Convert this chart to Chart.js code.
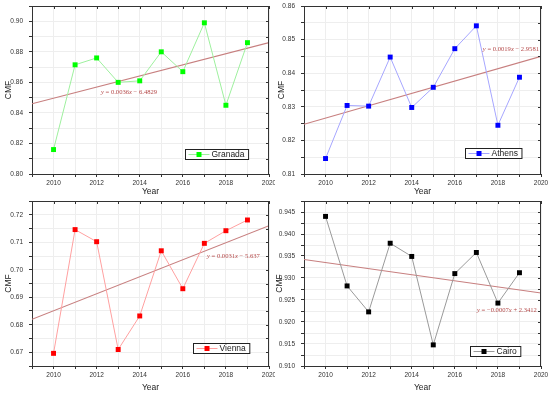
<!DOCTYPE html>
<html>
<head>
<meta charset="utf-8">
<script src="https://cdn.jsdelivr.net/npm/chart.js@4"></script>
<style>
  body { margin: 0; background: #fff; }
  #wrap { position: relative; width: 550px; height: 394px; overflow: hidden; }
  canvas { position: absolute; }
</style>
</head>
<body>
<div id="wrap">
  <canvas id="granada" width="275" height="197" style="left:0;top:0"></canvas>
  <canvas id="athens" width="275" height="197" style="left:275px;top:0"></canvas>
  <canvas id="vienna" width="275" height="197" style="left:0;top:197px"></canvas>
  <canvas id="cairo" width="275" height="197" style="left:275px;top:197px"></canvas>
</div>
<script>
const years = [2010, 2011, 2012, 2013, 2014, 2015, 2016, 2017, 2018, 2019];
const granada = [0.816, 0.8715, 0.876, 0.860, 0.861, 0.880, 0.867, 0.899, 0.845, 0.886];
const athens = [0.8146, 0.8304, 0.8302, 0.8448, 0.8298, 0.8358, 0.8473, 0.8541, 0.8245, 0.8388];
const vienna = [0.6696, 0.7146, 0.7102, 0.6710, 0.6832, 0.7069, 0.6931, 0.7096, 0.7142, 0.7181];
const cairo = [0.9440, 0.9282, 0.9223, 0.9379, 0.9349, 0.9148, 0.9310, 0.9358, 0.9243, 0.9312];

// fitted trend lines, read at the plot edges
const trendYears = [2009, 2020];
const granadaTrend = [0.846, 0.886];
const athensTrend = [0.8248, 0.8450];
const viennaTrend = [0.6820, 0.7160];
const cairoTrend = [0.9342, 0.9266];

const yearTicks = ["2010", "2012", "2014", "2016", "2018", "2020"];
const granadaTicks = ["0.80", "0.82", "0.84", "0.86", "0.88", "0.90"];
const athensTicks = ["0.81", "0.82", "0.83", "0.84", "0.85", "0.86"];
const viennaTicks = ["0.67", "0.68", "0.69", "0.70", "0.71", "0.72"];
const cairoTicks = ["0.910", "0.915", "0.920", "0.925", "0.930", "0.935", "0.940", "0.945"];

const equations = [
  "y = 0.0036x \u2212 6.4829",
  "y = 0.0019x \u2212 2.9581",
  "y = 0.0031x \u2212 5.637",
  "y = \u22120.0007x + 2.3412",
];

const sans = "'Liberation Sans', Arial, sans-serif";

const framePlugin = {
  id: "frame",
  afterDraw(chart) {
    const { ctx, chartArea: a, scales } = chart;
    const opts = chart.options.plugins.frame;
    ctx.save();
    ctx.strokeStyle = "#333";
    ctx.lineWidth = 1;
    ctx.beginPath();
    ctx.moveTo(a.left, a.top + 0.5);
    ctx.lineTo(a.right, a.top + 0.5);
    ctx.moveTo(a.right - 0.5, a.top);
    ctx.lineTo(a.right - 0.5, a.bottom);
    scales.x.ticks.forEach((t) => {
      const px = Math.round(scales.x.getPixelForValue(t.value)) + 0.5;
      ctx.moveTo(px, a.top);
      ctx.lineTo(px, a.top + 3);
    });
    scales.y.ticks.forEach((t) => {
      const py = Math.round(scales.y.getPixelForValue(t.value)) + 0.5;
      ctx.moveTo(a.right, py);
      ctx.lineTo(a.right - 3, py);
    });
    ctx.stroke();

    // equation of the trend line
    let ex = scales.x.getPixelForValue(opts.eqAt[0]);
    const ey = scales.y.getPixelForValue(opts.eqAt[1]);
    ctx.fillStyle = "#b54a4a";
    ctx.textBaseline = "middle";
    ctx.textAlign = "left";
    for (const ch of opts.equation) {
      const italic = ch === "x" || ch === "y";
      ctx.font = (italic ? "italic " : "") + "6.6px 'Liberation Serif', 'DejaVu Serif', serif";
      ctx.fillText(ch, ex, ey);
      ex += ctx.measureText(ch).width;
    }

    // legend box
    const ds = chart.data.datasets[0];
    ctx.font = "8.5px " + sans;
    const tw = ctx.measureText(ds.label).width;
    const bw = tw + 30;
    const bh = 10;
    const bx = Math.round(a.right - opts.legendRight - bw) + 0.5;
    const by = Math.round(a.bottom - opts.legendBottom - bh) + 0.5;
    ctx.fillStyle = "#fff";
    ctx.fillRect(bx, by, bw, bh);
    ctx.strokeStyle = "#222";
    ctx.strokeRect(bx, by, bw, bh);
    ctx.strokeStyle = ds.borderColor;
    ctx.beginPath();
    ctx.moveTo(bx + 3, by + bh / 2);
    ctx.lineTo(bx + 24, by + bh / 2);
    ctx.stroke();
    ctx.fillStyle = ds.pointBackgroundColor;
    ctx.fillRect(bx + 11, by + bh / 2 - 2.5, 5, 5);
    ctx.fillStyle = "#222";
    ctx.fillText(ds.label, bx + 26, by + bh / 2 + 0.5);
    ctx.restore();
  },
};

function makeChart(id, p) {
  const ctx = document.getElementById(id).getContext("2d");
  return new Chart(ctx, {
    type: "line",
    data: {
      datasets: [
        {
          label: p.name,
          data: years.map((y, i) => ({ x: y, y: p.values[i] })),
          borderColor: p.lineColor,
          borderWidth: 1,
          pointStyle: "rect",
          pointRadius: 3.5,
          pointBackgroundColor: p.markColor,
          pointBorderColor: p.markColor,
          pointBorderWidth: 0,
          tension: 0,
        },
        {
          label: "trend",
          data: trendYears.map((y, i) => ({ x: y, y: p.trend[i] })),
          borderColor: "#c77f7f",
          borderWidth: 1.1,
          pointRadius: 0,
        },
      ],
    },
    options: {
      responsive: false,
      animation: false,
      devicePixelRatio: 1,
      layout: { padding: { left: 0, right: p.padRight, top: p.padTop, bottom: 0 } },
      plugins: {
        legend: { display: false },
        tooltip: { enabled: false },
        frame: {
          equation: p.equation,
          eqAt: p.eqAt,
          legendRight: p.legendRight,
          legendBottom: p.legendBottom,
        },
      },
      scales: {
        x: {
          type: "linear",
          min: 2009,
          max: 2020,
          afterFit: (s) => {
            s.height = p.xHeight;
            s.paddingLeft = 0;
            s.paddingRight = 0;
          },
          ticks: {
            stepSize: 1,
            autoSkip: false,
            maxRotation: 0,
            padding: 2,
            color: "#333",
            font: { family: sans, size: 6.5 },
            callback: (v) => (yearTicks.includes(String(v)) ? String(v) : ""),
          },
          grid: { color: "#eeeeee", tickColor: "#333", tickLength: 3 },
          border: { color: "#333", width: 1 },
          title: {
            display: true,
            text: "Year",
            color: "#222",
            font: { family: sans, size: 8.5, lineHeight: 1 },
            padding: { top: 0, bottom: p.xTitlePad },
          },
        },
        y: {
          min: p.yMin,
          max: p.yMax,
          afterFit: (s) => {
            s.width = p.yWidth;
            s.paddingTop = 0;
            s.paddingBottom = 0;
          },
          ticks: {
            stepSize: p.yStep,
            autoSkip: false,
            padding: 6,
            color: "#333",
            font: { family: sans, size: 6.5 },
            callback: (v) => {
              const hit = p.yLabels.find((l) => Math.abs(parseFloat(l) - v) < 1e-7);
              return hit || "";
            },
          },
          grid: { color: "#eeeeee", tickColor: "#333", tickLength: 3 },
          border: { color: "#333", width: 1 },
          title: {
            display: true,
            text: "CMF",
            color: "#222",
            font: { family: sans, size: 8.5, lineHeight: 1 },
            padding: { top: p.yTitlePad, bottom: 0 },
          },
        },
      },
    },
    plugins: [framePlugin],
  });
}

const granadaChart = makeChart("granada", {
  name: "Granada",
  values: granada,
  trend: granadaTrend,
  lineColor: "#9ef09e",
  markColor: "#00ff00",
  yMin: 0.80,
  yMax: 0.91,
  yStep: 0.01,
  yLabels: granadaTicks,
  equation: equations[0],
  eqAt: [2012.2, 0.8537],
  legendRight: 21,
  legendBottom: 15,
  padRight: 6,
  padTop: 6,
  yWidth: 32,
  xHeight: 23,
  xTitlePad: 1,
  yTitlePad: 4.5,
});

const athensChart = makeChart("athens", {
  name: "Athens",
  values: athens,
  trend: athensTrend,
  lineColor: "#a6a6ff",
  markColor: "#0000ff",
  yMin: 0.81,
  yMax: 0.86,
  yStep: 0.005,
  yLabels: athensTicks,
  equation: equations[1],
  eqAt: [2017.3, 0.8472],
  legendRight: 20,
  legendBottom: 16,
  padRight: 9,
  padTop: 6,
  yWidth: 29,
  xHeight: 23,
  xTitlePad: 1,
  yTitlePad: 2,
});

const viennaChart = makeChart("vienna", {
  name: "Vienna",
  values: vienna,
  trend: viennaTrend,
  lineColor: "#ffa0a0",
  markColor: "#ff0000",
  yMin: 0.665,
  yMax: 0.725,
  yStep: 0.005,
  yLabels: viennaTicks,
  equation: equations[2],
  eqAt: [2017.12, 0.705],
  legendRight: 20,
  legendBottom: 13,
  padRight: 6,
  padTop: 1,
  yWidth: 32,
  xHeight: 28,
  xTitlePad: 2,
  yTitlePad: 4.5,
});

const cairoChart = makeChart("cairo", {
  name: "Cairo",
  values: cairo,
  trend: cairoTrend,
  lineColor: "#9a9a9a",
  markColor: "#000000",
  yMin: 0.910,
  yMax: 0.9475,
  yStep: 0.0025,
  yLabels: cairoTicks,
  equation: equations[3],
  eqAt: [2017.03, 0.9227],
  legendRight: 21,
  legendBottom: 10,
  padRight: 9,
  padTop: 1,
  yWidth: 29,
  xHeight: 28,
  xTitlePad: 2,
  yTitlePad: 0,
});
</script>
</body>
</html>
